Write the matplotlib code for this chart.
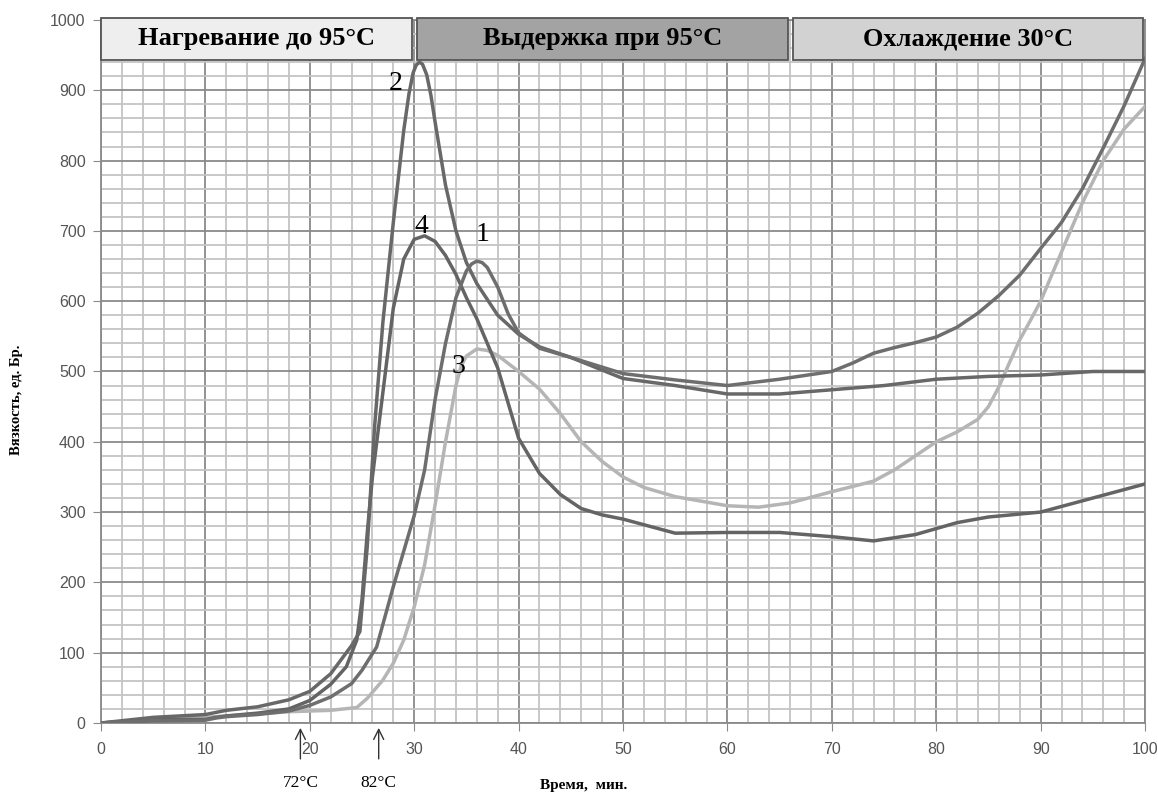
import matplotlib
matplotlib.use('Agg')
import matplotlib.pyplot as plt
from matplotlib.patches import Rectangle
from matplotlib.ticker import MultipleLocator

# curve values (time, min / viscosity, BU)
t1 = [0, 5, 10, 11, 12, 15, 18, 20, 22, 24, 25, 26.4, 28, 30, 31, 32, 33, 34, 35, 35.5,
      36, 36.5, 37, 38, 39, 40, 42, 45, 50, 55, 60, 65, 70, 72, 74, 76, 78, 80, 82, 84,
      86, 88, 90, 92, 94, 96, 98, 100]
v1 = [0, 3, 4, 7, 9, 12, 17, 25, 37, 56, 75, 108, 194, 295, 360, 460, 540, 605, 643, 653,
      657, 655, 648, 620, 582, 555, 533, 520, 497, 488, 480, 489, 500, 512, 526, 534, 541, 549, 563, 583,
      608, 637, 675, 712, 760, 818, 878, 945]

t2 = [0, 5, 10, 12, 15, 18, 20, 22, 24, 24.8, 25.5, 26.2, 27, 28, 29, 29.5, 29.9, 30.2, 30.5, 30.8,
      31.2, 31.6, 32, 33, 34, 35, 36, 38, 40, 42, 45, 50, 55, 60, 65, 70, 75, 80, 85, 90,
      95, 100]
v2 = [0, 8, 12, 18, 23, 33, 45, 70, 110, 130, 250, 420, 570, 712, 843, 895, 925, 936, 940, 937,
      922, 893, 855, 765, 700, 655, 625, 580, 553, 535, 520, 490, 480, 468, 468, 474, 480, 489, 493, 495,
      500, 500]

t3 = [0, 5, 10, 15, 18, 20, 22, 24.5, 25.5, 27, 28, 29, 30, 31, 32, 33, 33.5, 34, 34.5, 35,
      36, 37, 38, 40, 42, 44, 46, 48, 50, 52, 55, 60, 63, 66, 70, 74, 76, 78, 80, 82,
      84, 85, 86, 87, 88, 89, 90, 91, 92, 94, 96, 98, 100]
v3 = [0, 4, 8, 13, 16, 17, 18, 22, 35, 61, 85, 118, 165, 225, 310, 400, 440, 480, 508, 522,
      532, 530, 523, 500, 475, 440, 400, 372, 350, 335, 322, 309, 307, 313, 329, 344, 360, 380, 400, 414,
      432, 450, 478, 512, 545, 572, 600, 635, 670, 740, 800, 845, 877]

t4 = [0, 5, 10, 11, 12, 15, 18, 20, 22, 23.5, 24.5, 25, 25.5, 26, 27, 28, 29, 30, 31, 32,
      33, 34, 35, 36, 37, 38, 39, 40, 42, 44, 46, 48, 50, 55, 60, 65, 70, 74, 78, 82,
      85, 90, 95, 100]
v4 = [0, 5, 5, 8, 10, 14, 20, 32, 55, 80, 118, 175, 270, 350, 470, 590, 660, 688, 693, 685,
      665, 638, 605, 575, 540, 505, 455, 405, 355, 325, 305, 296, 290, 270, 271, 271, 265, 259, 268, 285,
      293, 300, 320, 340]

curve_labels = ['1', '2', '3', '4']
label_pos = [(36.5, 695), (28.2, 910), (34.2, 507), (30.7, 706)]

phases = ['Нагревание до 95°С', 'Выдержка при 95°С', 'Охлаждение 30°С']
phase_span = [(0, 29.8), (30.3, 65.8), (66.3, 99.8)]
phase_color = ['#eeeeee', '#a3a3a3', '#d2d2d2']

marks = ['72°С', '82°С']
mark_t = [19.1, 26.6]

serif = 'Liberation Serif'

fig = plt.figure(figsize=(11.58, 7.93), dpi=100)
ax = fig.add_axes([0.0872, 0.0883, 0.9016, 0.8865])

ax.set_xlim(0, 100)
ax.set_ylim(0, 1000)
ax.xaxis.set_major_locator(MultipleLocator(10))
ax.xaxis.set_minor_locator(MultipleLocator(2))
ax.yaxis.set_major_locator(MultipleLocator(100))
ax.yaxis.set_minor_locator(MultipleLocator(20))
ax.grid(which='minor', color='#c4c4c4', linewidth=1.3)
ax.grid(which='major', color='#8a8a8a', linewidth=1.3)
ax.set_axisbelow(True)
for s in ax.spines.values():
    s.set_color('#8a8a8a')
    s.set_linewidth(1.3)
ax.tick_params(which='major', direction='out', length=6, color='#8a8a8a',
               labelsize=11.5, labelcolor='#555555')
ax.tick_params(axis='x', which='major', pad=8)
ax.tick_params(axis='y', which='major', pad=5)
ax.tick_params(which='minor', length=0)
for lab in ax.get_xticklabels() + ax.get_yticklabels():
    lab.set_family('Liberation Sans')

# curves
ax.plot(t3, v3, color='#b5b5b5', lw=2.5, solid_joinstyle='round', zorder=3)
ax.plot(t4, v4, color='#646464', lw=2.5, solid_joinstyle='round', zorder=4)
ax.plot(t2, v2, color='#686868', lw=2.5, solid_joinstyle='round', zorder=4)
ax.plot(t1, v1, color='#6e6e6e', lw=2.5, solid_joinstyle='round', zorder=4)

for lab, (x, y) in zip(curve_labels, label_pos):
    ax.text(x, y, lab, family=serif, fontsize=20, ha='center', va='center', zorder=6)

# phase boxes on top
for name, (a, b), c in zip(phases, phase_span, phase_color):
    ax.add_patch(Rectangle((a, 943), b - a, 60, facecolor=c, edgecolor='#555555',
                           linewidth=1.3, zorder=5, clip_on=False))
    ax.text((a + b) / 2, 973, name, family=serif, fontweight='bold', fontsize=19,
            ha='center', va='center', zorder=6)

# temperature arrows below the axis
for lab, x in zip(marks, mark_t):
    ax.annotate('', xy=(x, -3), xytext=(x, -55), xycoords='data',
                arrowprops=dict(arrowstyle='->', color='#333333', lw=1, mutation_scale=18),
                annotation_clip=False)
    ax.text(x, -85, lab, family=serif, fontsize=12.5, ha='center', va='center', clip_on=False)

ax.set_xlabel('Время,  мин.', family=serif, fontweight='bold', fontsize=11)
ax.set_ylabel('Вязкость, ед. Бр.', family=serif, fontweight='bold', fontsize=10.5)
ax.xaxis.set_label_coords(0.462, -0.08)
ax.yaxis.set_label_coords(-0.075, 0.46)

fig.savefig('out.png', dpi=100)
